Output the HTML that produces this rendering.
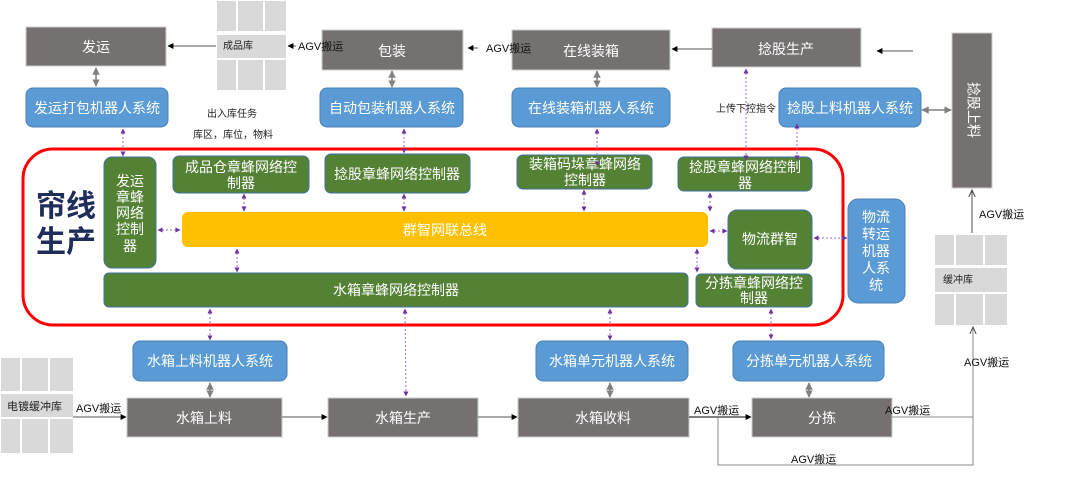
<!DOCTYPE html>
<html><head><meta charset="utf-8"><style>
html,body{margin:0;padding:0;background:#fff;}
svg text{font-family:"Liberation Sans","Noto Sans CJK SC",sans-serif;}
</style></head><body>
<svg width="1080" height="473" viewBox="0 0 1080 473" xmlns="http://www.w3.org/2000/svg">
<defs>
<marker id="pa" viewBox="0 0 10 10" refX="9" refY="5" markerWidth="5" markerHeight="5" orient="auto-start-reverse"><path d="M0,0L10,5L0,10z" fill="#7030a0"/></marker>
<marker id="ga" viewBox="0 0 10 10" refX="9" refY="5" markerWidth="5" markerHeight="5" orient="auto-start-reverse"><path d="M0,0L10,5L0,10z" fill="#808080"/></marker>
<marker id="ba" viewBox="0 0 10 10" refX="9" refY="5" markerWidth="6" markerHeight="6" orient="auto"><path d="M0,0L10,5L0,10z" fill="#000"/></marker>
<marker id="oa" viewBox="0 0 10 10" refX="9" refY="5" markerWidth="8" markerHeight="8" orient="auto"><path d="M0,1L9,5L0,9" fill="none" stroke="#444" stroke-width="1.2"/></marker>
</defs>
<g font-size="14" fill="#fff" text-anchor="middle">
<rect x="26" y="27" width="140" height="39" fill="#767171" stroke="#ccc"/><text x="96" y="52">发运</text>
<rect x="322" y="30" width="141" height="40" fill="#767171" stroke="#ccc"/><text x="392" y="56">包装</text>
<rect x="512" y="30" width="158" height="40" fill="#767171" stroke="#ccc"/><text x="591" y="56">在线装箱</text>
<rect x="712" y="28" width="149" height="39" fill="#767171" stroke="#ccc"/><text x="786" y="54">捻股生产</text>
<rect x="952" y="33" width="40" height="155" fill="#767171" stroke="#ccc"/>
<text x="972" y="110" transform="rotate(90 972 110)" dominant-baseline="middle">捻股上料</text>
<rect x="26" y="88" width="142" height="39" rx="7" fill="#5b9bd5" stroke="#4a7fb5"/><text x="97" y="113">发运打包机器人系统</text>
<rect x="320" y="88" width="143" height="39" rx="7" fill="#5b9bd5" stroke="#4a7fb5"/><text x="392" y="113">自动包装机器人系统</text>
<rect x="512" y="88" width="158" height="39" rx="7" fill="#5b9bd5" stroke="#4a7fb5"/><text x="591" y="113">在线装箱机器人系统</text>
<rect x="779" y="88" width="142" height="39" rx="7" fill="#5b9bd5" stroke="#4a7fb5"/><text x="850" y="113">捻股上料机器人系统</text>
</g>
<g fill="#d9d9d9">
<rect x="217" y="1" width="19" height="30"/><rect x="238" y="1" width="25" height="30"/><rect x="265" y="1" width="21" height="30"/>
<rect x="217" y="35" width="69" height="23"/>
<rect x="217" y="60" width="19" height="30"/><rect x="238" y="60" width="25" height="30"/><rect x="265" y="60" width="21" height="30"/>
<rect x="935" y="235" width="19" height="30"/><rect x="956" y="235" width="27" height="30"/><rect x="985" y="235" width="22" height="30"/>
<rect x="935" y="268" width="72" height="24"/>
<rect x="935" y="294" width="19" height="31"/><rect x="956" y="294" width="27" height="31"/><rect x="985" y="294" width="22" height="31"/>
<rect x="1" y="358" width="19" height="33"/><rect x="22" y="358" width="26" height="33"/><rect x="50" y="358" width="23" height="33"/>
<rect x="1" y="394" width="72" height="23"/>
<rect x="1" y="419" width="19" height="34"/><rect x="22" y="419" width="26" height="34"/><rect x="50" y="419" width="23" height="34"/>
</g>
<g font-size="10" fill="#222">
<text x="223" y="49">成品库</text>
<text x="943" y="283">缓冲库</text>
<text x="7" y="410" font-size="11">电镀缓冲库</text>
<text x="207" y="117">出入库任务</text>
<text x="193" y="138">库区，库位，物料</text>
<text x="716" y="112">上传下控指令</text>
</g>
<rect x="23" y="149" width="820" height="176" rx="30" fill="none" stroke="#ff0000" stroke-width="3"/>
<text x="36" y="216" font-size="30" font-weight="bold" fill="#1f2d5a">帘线</text>
<text x="36" y="252" font-size="30" font-weight="bold" fill="#1f2d5a">生产</text>
<g fill="#548235" stroke="#41719c">
<rect x="104" y="157" width="52" height="111" rx="8"/>
<rect x="173" y="156" width="136" height="37" rx="6"/>
<rect x="325" y="154" width="145" height="39" rx="6"/>
<rect x="517" y="155" width="135" height="34" rx="6"/>
<rect x="678" y="157" width="134" height="34" rx="6"/>
<rect x="728" y="210" width="84" height="59" rx="9"/>
<rect x="104" y="273" width="584" height="34" rx="5"/>
<rect x="696" y="274" width="116" height="33" rx="5"/>
</g>
<rect x="182" y="212" width="526" height="35" rx="6" fill="#ffc000"/>
<rect x="848" y="199" width="57" height="104" rx="10" fill="#5b9bd5" stroke="#4a7fb5"/>
<g font-size="14" fill="#fff" text-anchor="middle">
<text x="130" y="186">发运</text><text x="130" y="202">章蜂</text><text x="130" y="218">网络</text><text x="130" y="234">控制</text><text x="130" y="251">器</text>
<text x="241" y="172">成品仓章蜂网络控</text><text x="241" y="188">制器</text>
<text x="397" y="179">捻股章蜂网络控制器</text>
<text x="585" y="169">装箱码垛章蜂网络</text><text x="585" y="185">控制器</text>
<text x="745" y="172">捻股章蜂网络控制</text><text x="745" y="188">器</text>
<text x="445" y="235">群智网联总线</text>
<text x="770" y="244">物流群智</text>
<text x="396" y="295">水箱章蜂网络控制器</text>
<text x="754" y="288">分拣章蜂网络控</text><text x="754" y="303">制器</text>
<text x="876" y="222">物流</text><text x="876" y="239">转运</text><text x="876" y="256">机器</text><text x="876" y="273">人系</text><text x="876" y="290">统</text>
</g>
<g font-size="14" fill="#fff" text-anchor="middle">
<rect x="133" y="341" width="154" height="40" rx="7" fill="#5b9bd5" stroke="#4a7fb5"/><text x="210" y="366">水箱上料机器人系统</text>
<rect x="536" y="341" width="152" height="40" rx="7" fill="#5b9bd5" stroke="#4a7fb5"/><text x="612" y="366">水箱单元机器人系统</text>
<rect x="733" y="341" width="151" height="40" rx="7" fill="#5b9bd5" stroke="#4a7fb5"/><text x="809" y="366">分拣单元机器人系统</text>
<rect x="127" y="398" width="155" height="39" fill="#767171" stroke="#ccc"/><text x="204" y="423">水箱上料</text>
<rect x="328" y="398" width="150" height="39" fill="#767171" stroke="#ccc"/><text x="403" y="423">水箱生产</text>
<rect x="518" y="398" width="171" height="39" fill="#767171" stroke="#ccc"/><text x="603" y="423">水箱收料</text>
<rect x="752" y="398" width="140" height="39" fill="#767171" stroke="#ccc"/><text x="822" y="423">分拣</text>
</g>
<g stroke="#9b6cc7" stroke-width="1" stroke-dasharray="2,2" marker-start="url(#pa)" marker-end="url(#pa)" fill="none">
<line x1="123" y1="129" x2="123" y2="156"/>
<line x1="244" y1="194" x2="244" y2="211"/>
<line x1="404" y1="129" x2="404" y2="153"/>
<line x1="404" y1="194" x2="404" y2="211"/>
<line x1="597" y1="129" x2="597" y2="166"/>
<line x1="584" y1="190" x2="584" y2="211"/>
<line x1="746" y1="69" x2="746" y2="160"/>
<line x1="797" y1="124" x2="797" y2="160"/>
<line x1="710" y1="193" x2="710" y2="211"/>
<line x1="158" y1="230" x2="180" y2="230"/>
<line x1="710" y1="231" x2="727" y2="231"/>
<line x1="814" y1="238" x2="847" y2="238"/>
<line x1="237" y1="249" x2="237" y2="272"/>
<line x1="697" y1="249" x2="697" y2="272"/>
<line x1="210" y1="309" x2="210" y2="340"/>
<line x1="405" y1="309" x2="406" y2="396"/>
<line x1="610" y1="309" x2="610" y2="340"/>
<line x1="771" y1="309" x2="771" y2="339"/>
</g>
<g stroke="#808080" stroke-width="1.5" marker-start="url(#ga)" marker-end="url(#ga)">
<line x1="96" y1="68" x2="96" y2="86"/>
<line x1="392" y1="71" x2="392" y2="87"/>
<line x1="597" y1="71" x2="597" y2="87"/>
<line x1="210" y1="383" x2="210" y2="397"/>
<line x1="610" y1="383" x2="610" y2="397"/>
<line x1="809" y1="383" x2="809" y2="397"/>
<line x1="922" y1="110" x2="951" y2="110"/>
</g>
<g stroke="#555" stroke-width="1" fill="none">
<line x1="216" y1="46" x2="168" y2="46" marker-end="url(#ba)"/>
<line x1="296" y1="46" x2="288" y2="46" marker-end="url(#ba)"/>
<line x1="478" y1="48" x2="468" y2="48" marker-end="url(#ba)"/>
<line x1="712" y1="49" x2="672" y2="49" marker-end="url(#ba)"/>
<line x1="913" y1="51" x2="877" y2="51" marker-end="url(#ba)"/>
<line x1="972" y1="233" x2="972" y2="190" marker-end="url(#oa)"/>
<line x1="73" y1="417" x2="126" y2="417" marker-end="url(#ba)"/>
<line x1="282" y1="417" x2="327" y2="417" marker-end="url(#ba)"/>
<line x1="478" y1="417" x2="517" y2="417" marker-end="url(#ba)"/>
<line x1="689" y1="417" x2="751" y2="417" stroke="#000" marker-end="url(#ba)"/>
<polyline points="892,417 973,417 973,327" stroke="#888" marker-end="url(#oa)"/>
<polyline points="718,417 718,465 973,465 973,417" stroke="#888"/>
</g>
<g font-size="11" fill="#111">
<text x="298" y="50">AGV搬运</text>
<text x="486" y="52">AGV搬运</text>
<text x="979" y="218">AGV搬运</text>
<text x="76" y="412">AGV搬运</text>
<text x="694" y="414">AGV搬运</text>
<text x="885" y="414">AGV搬运</text>
<text x="791" y="463">AGV搬运</text>
<text x="964" y="366">AGV搬运</text>
</g>
</svg>
</body></html>
